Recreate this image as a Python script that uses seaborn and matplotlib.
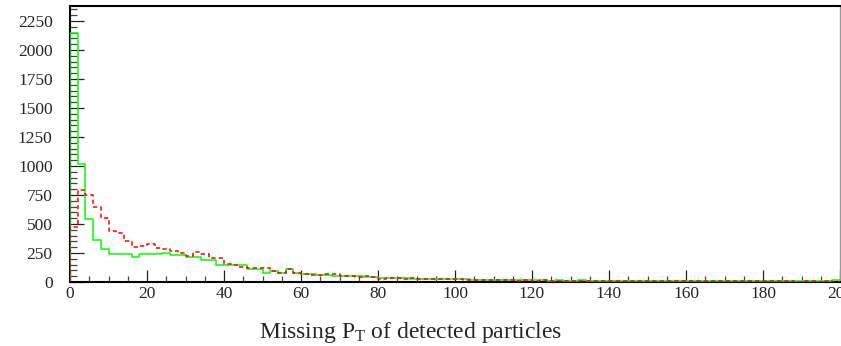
import numpy as np
import matplotlib
matplotlib.use("Agg")
import matplotlib.pyplot as plt
from matplotlib.ticker import MultipleLocator
import seaborn as sns

# Histogram contents, 100 bins of width 2 GeV from 0 to 200
bin_width = 2.0
x_range = (0.0, 200.0)

green_counts = [
    2145, 1020, 543, 365, 283, 241, 241, 241, 218, 241,
    238, 238, 250, 233, 230, 218, 218, 190, 190, 146,
    150, 150, 146, 112, 112, 75, 97, 75, 109, 75,
    66, 66, 60, 57, 55, 52, 50, 48, 44, 40,
    38, 36, 32, 32, 28, 26, 24, 23, 22, 24,
    25, 22, 18, 17, 18, 16, 17, 15, 14, 16,
    13, 14, 12, 13, 11, 12, 13, 10, 11, 12,
    10, 11, 9, 12, 10, 9, 11, 10, 8, 9,
    10, 9, 11, 8, 9, 10, 8, 7, 9, 10,
    8, 9, 7, 8, 9, 10, 8, 9, 12, 14,
]

red_counts = [
    470, 795, 750, 644, 554, 440, 420, 356, 304, 313,
    328, 290, 284, 265, 247, 224, 256, 239, 210, 204,
    152, 146, 129, 122, 118, 118, 97, 80, 109, 75,
    69, 60, 63, 66, 69, 55, 50, 46, 48, 46,
    29, 35, 32, 29, 37, 30, 28, 29, 25, 23,
    22, 18, 20, 16, 15, 17, 13, 15, 12, 14,
    11, 13, 10, 12, 9, 11, 10, 12, 8, 10,
    9, 11, 8, 10, 7, 9, 10, 8, 7, 9,
    8, 10, 7, 6, 8, 7, 9, 6, 7, 8,
    6, 5, 7, 6, 4, 5, 6, 4, 5, 3,
]

x_title = r"Missing P$_{\mathrm{T}}$ of detected particles"
y_max = 2380


def step_outline(counts):
    """Closed histogram outline: rises from zero at the low edge, drops at the high edge."""
    counts = np.asarray(counts, dtype=float)
    edges = np.arange(x_range[0], x_range[1] + bin_width / 2, bin_width)
    xs = np.r_[edges[0], edges, edges[-1]]
    ys = np.r_[0.0, counts, counts[-1], 0.0]
    return xs, ys


sns.set_theme(style="white")
plt.rcParams["font.family"] = ["Liberation Serif", "DejaVu Serif"]
plt.rcParams["mathtext.fontset"] = "custom"
plt.rcParams["mathtext.rm"] = "Liberation Serif"
plt.rcParams["mathtext.it"] = "Liberation Serif:italic"

fig = plt.figure(figsize=(8.41, 3.46), dpi=100)
fig.patch.set_facecolor("white")
ax = fig.add_axes([70 / 841, 64 / 346, 770 / 841, 276 / 346])
ax.set_facecolor("white")

gx, gy = step_outline(green_counts)
rx, ry = step_outline(red_counts)

sns.lineplot(x=gx, y=gy, ax=ax, drawstyle="steps-post", estimator=None, sort=False,
             color="#00ff00", linewidth=1.1, zorder=3)
line_r = sns.lineplot(x=rx, y=ry, ax=ax, drawstyle="steps-post", estimator=None, sort=False,
                      color="#ff0000", linewidth=1.1, zorder=4).lines[-1]
line_r.set_dashes([2.8, 2.0])

ax.set_xlim(*x_range)
ax.set_ylim(0, y_max)

ax.xaxis.set_major_locator(MultipleLocator(20))
ax.xaxis.set_minor_locator(MultipleLocator(5))
ax.yaxis.set_major_locator(MultipleLocator(250))
ax.yaxis.set_minor_locator(MultipleLocator(50))

ax.tick_params(axis="x", which="major", direction="in", length=8.6, width=0.9,
               color="#222222", labelsize=12.5, pad=3.0, bottom=True, top=False)
ax.tick_params(axis="x", which="minor", direction="in", length=4.3, width=0.9,
               color="#444444", bottom=True, top=False)
ax.tick_params(axis="y", which="major", direction="in", length=10, width=0.9,
               color="#222222", labelsize=12.5, pad=12.5, left=True, right=False)
ax.tick_params(axis="y", which="minor", direction="in", length=5, width=0.9,
               color="#444444", left=True, right=False)

for side in ["left", "bottom", "top"]:
    ax.spines[side].set_color("black")
    ax.spines[side].set_linewidth(1.5)
ax.spines["right"].set_color("#999999")
ax.spines["right"].set_linewidth(1.0)

ax.set_xlabel(x_title, fontsize=17, va="baseline")
ax.xaxis.set_label_coords((410.5 - 70) / 770, (282 - 338) / 276)
ax.set_ylabel("")

fig.savefig("out.png", dpi=100, facecolor="white")
